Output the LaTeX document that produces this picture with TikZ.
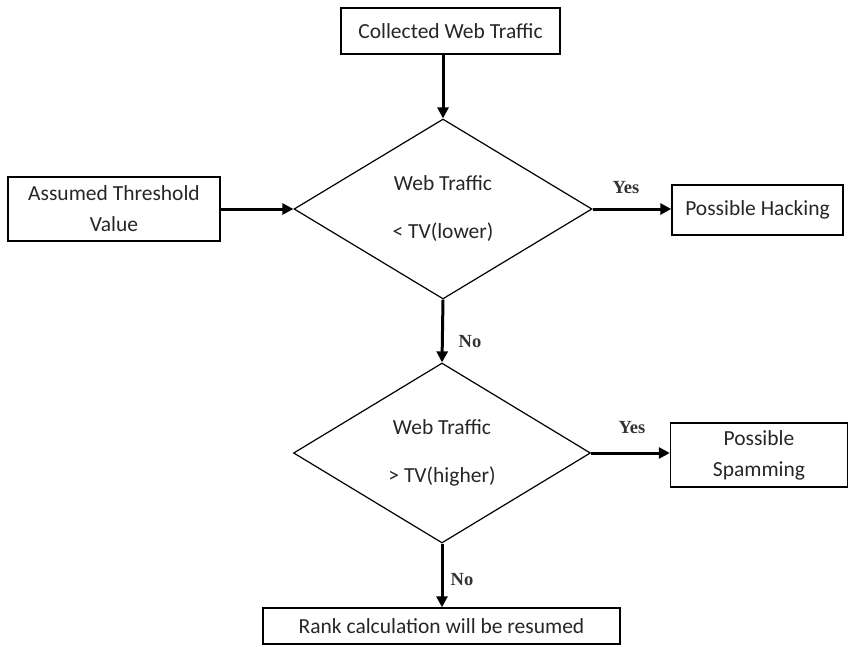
\documentclass[tikz,border=0pt]{standalone}
\usepackage{fontspec}
\setmainfont{Carlito}
\newfontfamily\labelfont{Liberation Serif}
\usetikzlibrary{shapes.geometric,arrows.meta}

\begin{document}
\begin{tikzpicture}[x=1pt,y=-1pt,
  every node/.style={text=black!85},
  box/.style={draw=black, line width=1.4pt, rectangle, inner sep=0pt,
    align=center, font=\fontsize{21.5}{31}\selectfont},
  decision/.style={draw=black, line width=1.2pt, diamond, inner sep=0pt,
    align=center, font=\fontsize{21.5}{26}\selectfont},
  flow/.style={line width=3pt, -{Triangle[length=11pt,width=11pt]}},
  answer/.style={font=\labelfont\bfseries\fontsize{18.5}{20}\selectfont, text=black!80}]

\useasboundingbox (0,0) rectangle (848,646);

% process boxes
\node[box, minimum width=219pt, minimum height=46pt] (collect) at (450.5,31) {Collected Web Traffic};
\node[box, minimum width=212pt, minimum height=64pt] (threshold) at (114,209) {Assumed Threshold\\Value};
\node[box, minimum width=171pt, minimum height=50pt] (hacking) at (757.5,210) {Possible Hacking};
\node[box, minimum width=177pt, minimum height=64pt] (spamming) at (759,455) {Possible\\Spamming};
\node[box, minimum width=357pt, minimum height=36pt] (rank) at (441.5,626) {Rank calculation will be resumed};

% decisions
\node[decision, minimum width=298pt, minimum height=180pt] (lower) at (443,209) {Web Traffic\\[22pt]< TV(lower)};
\node[decision, minimum width=297pt, minimum height=180pt] (higher) at (442,453) {Web Traffic\\[22pt]> TV(higher)};

% connectors
\draw[flow] (collect.south -| lower.north) -- (lower.north);
\draw[flow] (threshold.east) -- (lower.west);
\draw[flow] (lower.east) -- (hacking.west |- lower.east);
\draw[flow] (lower.south) -- (higher.north);
\draw[flow] (higher.east) -- (spamming.west |- higher.east);
\draw[flow] (higher.south) -- (rank.north -| higher.south);

% branch labels
\node[answer] (yes1) at (626,188) {Yes};
\node[answer] (no1) at (470,342) {No};
\node[answer] (yes2) at (632,428) {Yes};
\node[answer] (no2) at (462,580) {No};
\end{tikzpicture}
\end{document}
